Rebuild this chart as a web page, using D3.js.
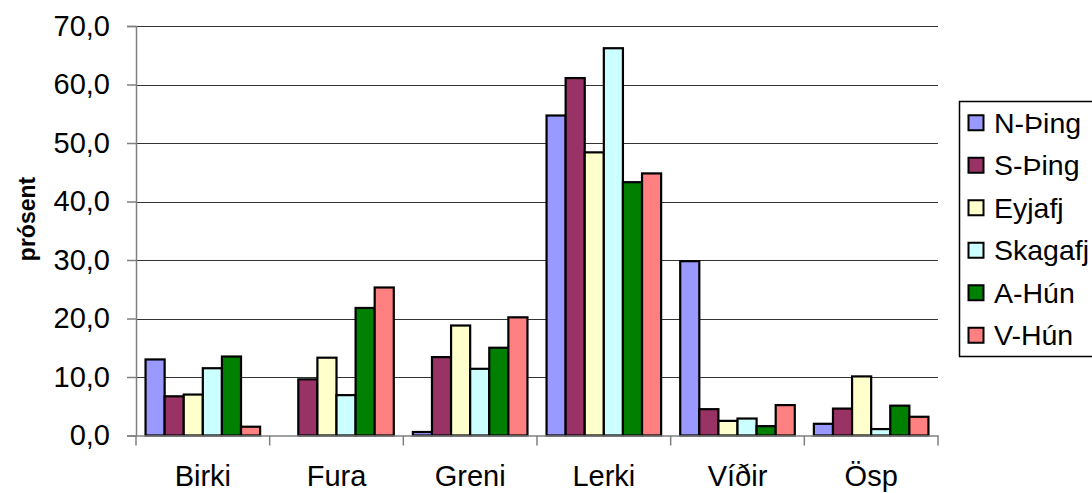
<!DOCTYPE html>
<html>
<head>
<meta charset="utf-8">
<script src="https://cdn.jsdelivr.net/npm/d3@7"></script>
<style>
  html, body { margin: 0; padding: 0; background: #fff; }
  svg { display: block; font-family: "Liberation Sans", Arial, sans-serif; }
</style>
</head>
<body>
<svg id="chart" width="1092" height="493"></svg>
<script>
const categories = ["Birki", "Fura", "Greni", "Lerki", "Víðir", "Ösp"];
const seriesNames = ["N-Þing", "S-Þing", "Eyjafj", "Skagafj", "A-Hún", "V-Hún"];
const seriesColors = ["#9999FF", "#993366", "#FFFFCC", "#CCFFFF", "#008000", "#FF8080"];
const nThing  = [13.0, 0.0, 0.6, 54.7, 29.8, 2.0];
const sThing  = [6.7, 9.6, 13.4, 61.1, 4.5, 4.6];
const eyjafj  = [7.0, 13.3, 18.8, 48.4, 2.5, 10.1];
const skagafj = [11.5, 6.9, 11.4, 66.2, 2.9, 1.1];
const aHun    = [13.5, 21.8, 15.0, 43.3, 1.6, 5.1];
const vHun    = [1.5, 25.3, 20.2, 44.8, 5.2, 3.2];
const seriesValues = [nThing, sThing, eyjafj, skagafj, aHun, vHun];
const yTicks = [0, 10, 20, 30, 40, 50, 60, 70];
const yTitle = "prósent";

(function () {
const svg = d3.select("#chart");
const pLeft = 136, pRight = 938, pTop = 26, pBottom = 435.5;

const x0 = d3.scaleBand().domain(categories).range([pLeft, pRight]).padding(0);
const x1 = d3.scaleBand().domain(seriesNames).range([0, x0.bandwidth()])
  .paddingInner(0).paddingOuter(0.5);
const y = d3.scaleLinear().domain([0, 70]).range([pBottom, pTop]);
const color = d3.scaleOrdinal().domain(seriesNames).range(seriesColors);
const fmt = v => d3.format(".1f")(v).replace(".", ",");

// gridlines
svg.append("g").selectAll("line").data(yTicks.filter(t => t > 0)).join("line")
  .attr("x1", pLeft).attr("x2", pRight)
  .attr("y1", d => Math.round(y(d)) + 0.5).attr("y2", d => Math.round(y(d)) + 0.5)
  .attr("stroke", "#333").attr("stroke-width", 1.2);

// y axis
const yAxis = svg.append("g").attr("transform", `translate(${pLeft},0)`)
  .call(d3.axisLeft(y).tickValues(yTicks).tickFormat(fmt).tickSize(9).tickPadding(17));
yAxis.select(".domain").attr("stroke", "#808080").attr("stroke-width", 1.5);
yAxis.selectAll(".tick line").attr("stroke", "#808080").attr("stroke-width", 1.5);
yAxis.selectAll("text").attr("font-size", 29).attr("fill", "#000")
  .attr("font-family", "Liberation Sans, Arial, sans-serif");

// bars
const data = categories.map((c, i) => ({
  cat: c,
  vals: seriesNames.map((s, j) => ({ s, v: seriesValues[j][i] }))
}));
const groups = svg.append("g").selectAll("g").data(data).join("g")
  .attr("transform", d => `translate(${x0(d.cat)},0)`);
groups.selectAll("rect").data(d => d.vals.filter(e => e.v > 0)).join("rect")
  .attr("x", d => x1(d.s))
  .attr("y", d => y(d.v))
  .attr("width", x1.bandwidth())
  .attr("height", d => pBottom - y(d.v))
  .attr("fill", d => color(d.s))
  .attr("stroke", "#000").attr("stroke-width", 2.2);

// x axis
const xAxis = svg.append("g").attr("transform", `translate(0,${pBottom})`)
  .call(d3.axisBottom(x0).tickSize(0).tickPadding(30));
xAxis.select(".domain").attr("stroke", "#808080").attr("stroke-width", 1.5);
xAxis.selectAll("text").attr("font-size", 29).attr("fill", "#000")
  .attr("font-family", "Liberation Sans, Arial, sans-serif");
// category boundary ticks
const bounds = categories.map(c => x0(c)).concat([pRight]);
svg.append("g").selectAll("line").data(bounds).join("line")
  .attr("x1", d => d).attr("x2", d => d)
  .attr("y1", pBottom).attr("y2", pBottom + 10)
  .attr("stroke", "#808080").attr("stroke-width", 1.5);

// y title
svg.append("text")
  .attr("transform", `translate(35,219) rotate(-90)`)
  .attr("text-anchor", "middle")
  .attr("font-size", 23).attr("font-weight", "bold")
  .text(yTitle);

// legend
const lg = svg.append("g");
lg.append("rect").attr("x", 959.5).attr("y", 101.5).attr("width", 160).attr("height", 255)
  .attr("fill", "#fff").attr("stroke", "#000").attr("stroke-width", 1.5);
const rowH = 255 / 6;
const items = lg.selectAll("g.item").data(seriesNames).join("g")
  .attr("transform", (d, i) => `translate(0,${101.5 + rowH * (i + 0.5)})`);
items.append("rect").attr("x", 968.5).attr("y", -7.5).attr("width", 15).attr("height", 15)
  .attr("fill", d => color(d)).attr("stroke", "#000").attr("stroke-width", 2);
items.append("text").attr("x", 994).attr("y", 0).attr("dy", "0.35em")
  .attr("font-size", 28.5).text(d => d);
})();
</script>
</body>
</html>
